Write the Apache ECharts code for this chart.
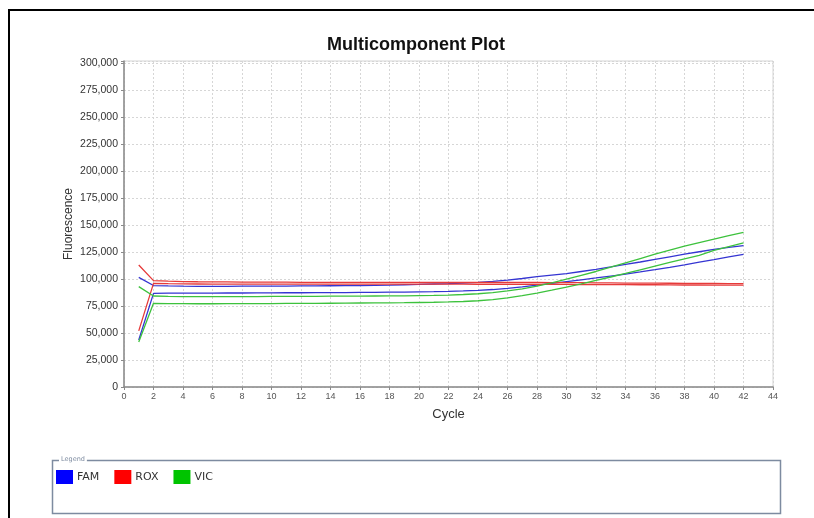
<!DOCTYPE html>
<html>
<head>
<meta charset="utf-8">
<style>
  html, body { margin: 0; padding: 0; background: #fff; }
  #chart { width: 814px; height: 518px; }
</style>
<script src="https://cdn.jsdelivr.net/npm/echarts@6/dist/echarts.min.js"></script>
</head>
<body>
<div id="chart"></div>
<script>
// Amplification cycles 1..42
const cycles = [1,2,3,4,5,6,7,8,9,10,11,12,13,14,15,16,17,18,19,20,21,22,23,24,25,26,27,28,29,30,31,32,33,34,35,36,37,38,39,40,41,42];

// Multicomponent fluorescence per dye (two wells each)
const famA = [101500,94000,93600,93400,93300,93300,93300,93400,93400,93500,93500,93600,93700,93800,93900,94000,94200,94400,94700,95000,95400,95800,96300,96900,97800,99000,100500,102200,103600,105000,107000,109000,111200,113500,115800,118200,120600,123000,125300,127500,129300,131000];
const famB = [43500,86700,86900,87000,87000,87000,87100,87100,87200,87200,87300,87300,87400,87400,87500,87600,87700,87800,87900,88100,88300,88600,89000,89500,90300,91400,92800,94300,95900,97600,99300,101000,102800,104600,106600,108700,110900,113200,115600,118000,120500,122900];
const roxA = [113000,98500,98000,97700,97500,97400,97300,97200,97200,97100,97100,97000,97000,97000,97000,97000,97000,97000,97000,97000,97000,97000,97000,97000,96900,96900,96800,96800,96700,96600,96600,96500,96400,96300,96300,96200,96100,96000,96000,95900,95800,95800];
const roxB = [52000,96000,95700,95500,95400,95300,95300,95300,95300,95300,95300,95300,95300,95300,95300,95300,95300,95300,95300,95300,95300,95300,95300,95200,95200,95200,95100,95100,95000,95000,94900,94900,94800,94800,94700,94700,94600,94500,94500,94400,94400,94300];
const vicA = [93000,84300,84000,83800,83700,83700,83700,83800,83800,83900,83900,84000,84000,84100,84100,84200,84300,84400,84500,84700,84900,85200,85700,86400,87500,89000,91000,93500,96500,100000,103500,107000,111000,115000,119000,123000,126800,130400,133800,137000,140200,143300];
const vicB = [41700,77500,77300,77200,77100,77100,77200,77200,77300,77300,77400,77500,77500,77600,77700,77800,77900,78000,78100,78300,78500,78800,79200,79900,81000,82600,84600,87000,89700,92600,95600,98700,101900,105200,108600,112000,115400,118800,122000,126500,130000,133500];

const dyes = ['FAM', 'ROX', 'VIC'];
const dyeColors = { FAM: '#0000ff', ROX: '#ff0000', VIC: '#00c400' };
const lineColors = { FAM: '#3535d2', ROX: '#e63a3a', VIC: '#3dc23d' };

const wells = [
  { dye: 'FAM', values: famA },
  { dye: 'FAM', values: famB },
  { dye: 'ROX', values: roxA },
  { dye: 'ROX', values: roxB },
  { dye: 'VIC', values: vicA },
  { dye: 'VIC', values: vicB }
];

const sans = '"Liberation Sans", Arial, sans-serif';
const chart = echarts.init(document.getElementById('chart'), null, { renderer: 'canvas' });

const fmt = v => v.toLocaleString('en-US');

chart.setOption({
  animation: false,
  backgroundColor: '#fff',
  title: {
    text: 'Multicomponent Plot',
    left: 327,
    top: 36,
    padding: 0,
    textStyle: {
      fontFamily: sans,
      fontSize: 18,
      fontWeight: 'bold',
      color: '#111'
    }
  },
  grid: {
    left: 124,
    right: 41,
    top: 61,
    bottom: 131,
    show: true,
    borderColor: '#d4d4d4',
    borderWidth: 1,
    containLabel: false
  },
  legend: {
    data: dyes,
    left: 56,
    top: 470,
    padding: 0,
    icon: 'rect',
    itemWidth: 17,
    itemHeight: 14,
    itemGap: 15,
    textStyle: {
      fontFamily: '"DejaVu Sans", Verdana, sans-serif',
      fontSize: 11,
      color: '#333',
      padding: [0, 0, 0, -1]
    },
    selectedMode: false
  },
  xAxis: {
    type: 'value',
    min: 0,
    max: 44,
    interval: 2,
    name: 'Cycle',
    nameLocation: 'middle',
    nameGap: 21,
    nameMoveOverlap: false,
    nameTextStyle: { fontFamily: sans, fontSize: 13, color: '#333' },
    axisLine: { lineStyle: { color: '#8a8a8a', width: 1.5 } },
    axisTick: { show: true, length: 3, lineStyle: { color: '#8a8a8a' } },
    axisLabel: { fontFamily: sans, fontSize: 9, color: '#555', margin: 5 },
    splitLine: { show: true, lineStyle: { color: '#d6d6d6', type: [2, 2] } }
  },
  yAxis: {
    type: 'value',
    min: 0,
    max: 302000,
    interval: 25000,
    name: 'Fluorescence',
    nameLocation: 'middle',
    nameGap: 49,
    nameMoveOverlap: false,
    nameTextStyle: { fontFamily: sans, fontSize: 12, color: '#333' },
    axisLine: { show: true, lineStyle: { color: '#8a8a8a', width: 1.5 } },
    axisTick: { show: true, length: 3, lineStyle: { color: '#8a8a8a' } },
    axisLabel: {
      fontFamily: sans,
      fontSize: 10.5,
      color: '#333',
      margin: 6,
      formatter: v => (v % 25000 === 0 ? fmt(v) : '')
    },
    splitLine: { show: true, lineStyle: { color: '#d6d6d6', type: [2, 2] } }
  },
  series: wells.map(w => ({
    name: w.dye,
    type: 'line',
    data: cycles.map((c, i) => [c, w.values[i]]),
    showSymbol: false,
    symbol: 'none',
    smooth: false,
    itemStyle: { color: dyeColors[w.dye] },
    lineStyle: { color: lineColors[w.dye], width: 1.3 }
  })),
  graphic: [
    // outer frame
    {
      type: 'rect',
      shape: { x: 9, y: 10, width: 830, height: 530 },
      style: { fill: 'none', stroke: '#000', lineWidth: 2 },
      silent: true
    },
    // legend box
    {
      type: 'rect',
      shape: { x: 52.5, y: 460.5, width: 728, height: 53 },
      style: { fill: 'none', stroke: '#7d8ba0', lineWidth: 1.5 },
      silent: true,
      z: -1
    },
    {
      type: 'text',
      x: 59,
      y: 456,
      style: {
        text: 'Legend',
        fontFamily: '"DejaVu Sans", Verdana, sans-serif',
        fontSize: 6.5,
        fill: '#7d8ba0',
        backgroundColor: '#fff',
        padding: [0, 2, 0, 2]
      },
      silent: true
    }
  ]
});
</script>
</body>
</html>
